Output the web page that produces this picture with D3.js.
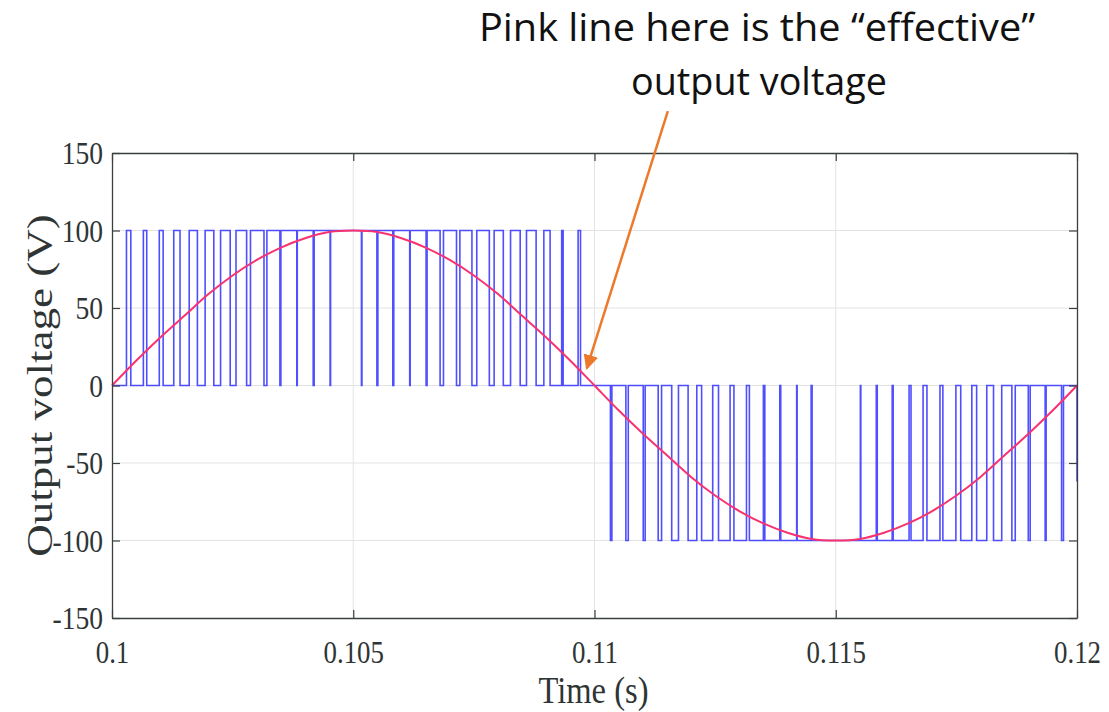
<!DOCTYPE html>
<html>
<head>
<meta charset="utf-8">
<script src="https://cdn.jsdelivr.net/npm/d3@7"></script>
<style>
  body { margin: 0; background: #fff; }
</style>
</head>
<body>
<div id="chart"></div>
<script>
// Intervals (s) where the inverter output sits at +100 V in the positive half cycle.
const positivePulses = [
    [0.10030, 0.10039], [0.10065, 0.10072], [0.10098, 0.10106], [0.10128, 0.10141],
    [0.10160, 0.10177], [0.10193, 0.10211], [0.10225, 0.10245], [0.10257, 0.10279],
    [0.10287, 0.10315], [0.10321, 0.10348], [0.10350, 0.10383], [0.10384, 0.10417],
    [0.10419, 0.10452], [0.10453, 0.10517], [0.10518, 0.10549], [0.10551, 0.10582],
    [0.10584, 0.10617], [0.10618, 0.10651], [0.10653, 0.10680], [0.10687, 0.10714],
    [0.10721, 0.10746], [0.10756, 0.10782], [0.10792, 0.10811], [0.10826, 0.10846],
    [0.10859, 0.10879], [0.10895, 0.10908], [0.10932, 0.10935], [0.10966, 0.10971]
];
// Intervals (s) where the output sits at -100 V in the negative half cycle.
const negativePulses = [
    [0.11033, 0.11036], [0.11065, 0.11070], [0.11101, 0.11105], [0.11132, 0.11139],
    [0.11160, 0.11174], [0.11194, 0.11212], [0.11222, 0.11245], [0.11257, 0.11281],
    [0.11289, 0.11315], [0.11321, 0.11350], [0.11353, 0.11384], [0.11386, 0.11419],
    [0.11420, 0.11449], [0.11451, 0.11551], [0.11552, 0.11584], [0.11586, 0.11617],
    [0.11619, 0.11652], [0.11656, 0.11681], [0.11689, 0.11716], [0.11722, 0.11749],
    [0.11759, 0.11782], [0.11792, 0.11813], [0.11827, 0.11844], [0.11865, 0.11872],
    [0.11899, 0.11903], [0.11934, 0.11936], [0.11968, 0.11972]
];
const pulseLevel = 100;
const endValue = -62;   // last sample at the right edge

// Effective (fundamental) output voltage, read every 0.5 ms.
const effectiveTimes = d3.range(0, 41).map(i => +(0.1 + i * 0.0005).toFixed(4));
const effectiveValues = [
    0, 16, 31, 45, 59, 71, 81, 89, 95, 99, 100, 99, 95, 89, 81, 71, 59, 45, 31, 16,
    0, -16, -31, -45, -59, -71, -81, -89, -95, -99, -100, -99, -95, -89, -81, -71, -59, -45, -31, -16, 0
];

const xTicks = [0.1, 0.105, 0.11, 0.115, 0.12];
const xTickLabels = ['0.1', '0.105', '0.11', '0.115', '0.12'];
const yTicks = [150, 100, 50, 0, -50, -100, -150];

const annotationLines = ['Pink line here is the \u201ceffective\u201d', 'output voltage'];
const arrowFrom = [0.11152, 177];
const arrowTo = [0.10984, 11];

// Squeeze text horizontally (the source figure is slightly condensed).
function condense(sel, k) {
    sel.each(function() {
        const len = this.getComputedTextLength();
        d3.select(this).attr('textLength', len * k).attr('lengthAdjust', 'spacingAndGlyphs');
    });
}

function pwmChart(chartLocation, width, height) {
    const margin = { top: 153, right: 32, bottom: 94, left: 112 };
    const innerW = width - margin.left - margin.right;
    const innerH = height - margin.top - margin.bottom;

    const svg = d3.select(chartLocation).append('svg')
        .attr('width', width)
        .attr('height', height);

    const defs = svg.append('defs');
    defs.append('clipPath').attr('id', 'plotClip')
        .append('rect').attr('x', -1).attr('y', -2).attr('width', innerW + 2).attr('height', innerH + 4);
    defs.append('marker')
        .attr('id', 'arrowHead')
        .attr('viewBox', '0 0 10 10')
        .attr('refX', 9).attr('refY', 5)
        .attr('markerWidth', 6).attr('markerHeight', 6)
        .attr('markerUnits', 'strokeWidth')
        .attr('orient', 'auto')
        .append('path').attr('d', 'M0,0 L10,5 L0,10 z').attr('fill', '#ec7a2a');

    const g = svg.append('g').attr('transform', `translate(${margin.left},${margin.top})`);

    const x = d3.scaleLinear().domain([0.1, 0.12]).range([0, innerW]);
    const y = d3.scaleLinear().domain([-150, 150]).range([innerH, 0]);

    // Grid lines
    g.append('g').selectAll('line').data(xTicks.slice(1, -1)).enter().append('line')
        .attr('x1', d => x(d)).attr('x2', d => x(d)).attr('y1', 0).attr('y2', innerH)
        .attr('stroke', '#e3e3e3').attr('stroke-width', 1);
    g.append('g').selectAll('line').data(yTicks.slice(1, -1)).enter().append('line')
        .attr('y1', d => y(d)).attr('y2', d => y(d)).attr('x1', 0).attr('x2', innerW)
        .attr('stroke', '#e3e3e3').attr('stroke-width', 1);

    // Build the PWM step waveform from the pulse intervals
    const pwm = [[0.1, 0]];
    positivePulses.forEach(([a, b]) => {
        pwm.push([a, 0], [a, pulseLevel], [b, pulseLevel], [b, 0]);
    });
    negativePulses.forEach(([a, b]) => {
        pwm.push([a, 0], [a, -pulseLevel], [b, -pulseLevel], [b, 0]);
    });
    pwm.push([0.12, 0], [0.12, endValue]);

    const line = d3.line().x(d => x(d[0])).y(d => y(d[1]));

    const plot = g.append('g').attr('clip-path', 'url(#plotClip)');
    plot.append('path')
        .datum(pwm)
        .attr('d', line)
        .attr('fill', 'none')
        .attr('stroke', '#4040ff')
        .attr('stroke-opacity', 0.92)
        .attr('stroke-width', 1.6);

    const effective = effectiveTimes.map((t, i) => [t, effectiveValues[i]]);
    plot.append('path')
        .datum(effective)
        .attr('d', line.curve(d3.curveCardinal))
        .attr('fill', 'none')
        .attr('stroke', '#f7336f')
        .attr('stroke-width', 2);

    // Axes box with inner ticks on every side (MATLAB style)
    const axisColor = '#3a3f3f';
    const tickFont = '"Liberation Serif", "Times New Roman", serif';
    const bottom = g.append('g').attr('transform', `translate(0,${innerH})`)
        .call(d3.axisBottom(x).tickValues(xTicks).tickSizeInner(-8).tickSizeOuter(0)
            .tickPadding(22).tickFormat((d, i) => xTickLabels[i]));
    const left = g.append('g')
        .call(d3.axisLeft(y).tickValues(yTicks).tickSizeInner(-8).tickSizeOuter(0)
            .tickPadding(9).tickFormat(d => String(d)));
    g.append('g').call(d3.axisTop(x).tickValues(xTicks).tickSizeInner(-8).tickSizeOuter(0).tickFormat(''));
    g.append('g').attr('transform', `translate(${innerW},0)`)
        .call(d3.axisRight(y).tickValues(yTicks).tickSizeInner(-8).tickSizeOuter(0).tickFormat(''));

    g.selectAll('.domain').attr('stroke', axisColor).attr('stroke-width', 1.3);
    g.selectAll('.tick line').attr('stroke', axisColor).attr('stroke-width', 1.2);
    [bottom, left].forEach(a => a.selectAll('text')
        .attr('font-family', tickFont).attr('font-size', 32).attr('fill', '#2f3535'));
    bottom.selectAll('text').attr('dy', '0.72em');
    left.selectAll('text').attr('dy', '0.34em');
    condense(bottom.selectAll('text'), 0.84);
    condense(left.selectAll('text'), 0.86);

    // Axis titles
    const xTitle = svg.append('text')
        .attr('x', margin.left + innerW / 2 - 1).attr('y', 703)
        .attr('text-anchor', 'middle')
        .attr('font-family', tickFont).attr('font-size', 37).attr('fill', '#2f3535')
        .text('Time (s)');
    condense(xTitle, 0.88);
    svg.append('text')
        .attr('transform', `translate(52,${margin.top + y(0)}) rotate(-90) scale(1,0.8)`)
        .attr('text-anchor', 'middle')
        .attr('font-family', tickFont).attr('font-size', 45).attr('fill', '#2f3535')
        .text('Output voltage (V)');

    // Annotation
    const note = svg.append('text')
        .attr('font-family', '"Open Sans", "Noto Sans", sans-serif')
        .attr('font-size', 38).attr('fill', '#111').attr('text-anchor', 'middle');
    note.append('tspan').attr('x', 757).attr('y', 41).attr('textLength', 556)
        .attr('lengthAdjust', 'spacingAndGlyphs').text(annotationLines[0]);
    note.append('tspan').attr('x', 759).attr('y', 95).attr('textLength', 256)
        .attr('lengthAdjust', 'spacingAndGlyphs').text(annotationLines[1]);

    g.append('line')
        .attr('x1', x(arrowFrom[0])).attr('y1', y(arrowFrom[1]))
        .attr('x2', x(arrowTo[0])).attr('y2', y(arrowTo[1]))
        .attr('stroke', '#ec7a2a').attr('stroke-width', 2.5)
        .attr('marker-end', 'url(#arrowHead)');
}

pwmChart('#chart', 1109, 712);
</script>
</body>
</html>
